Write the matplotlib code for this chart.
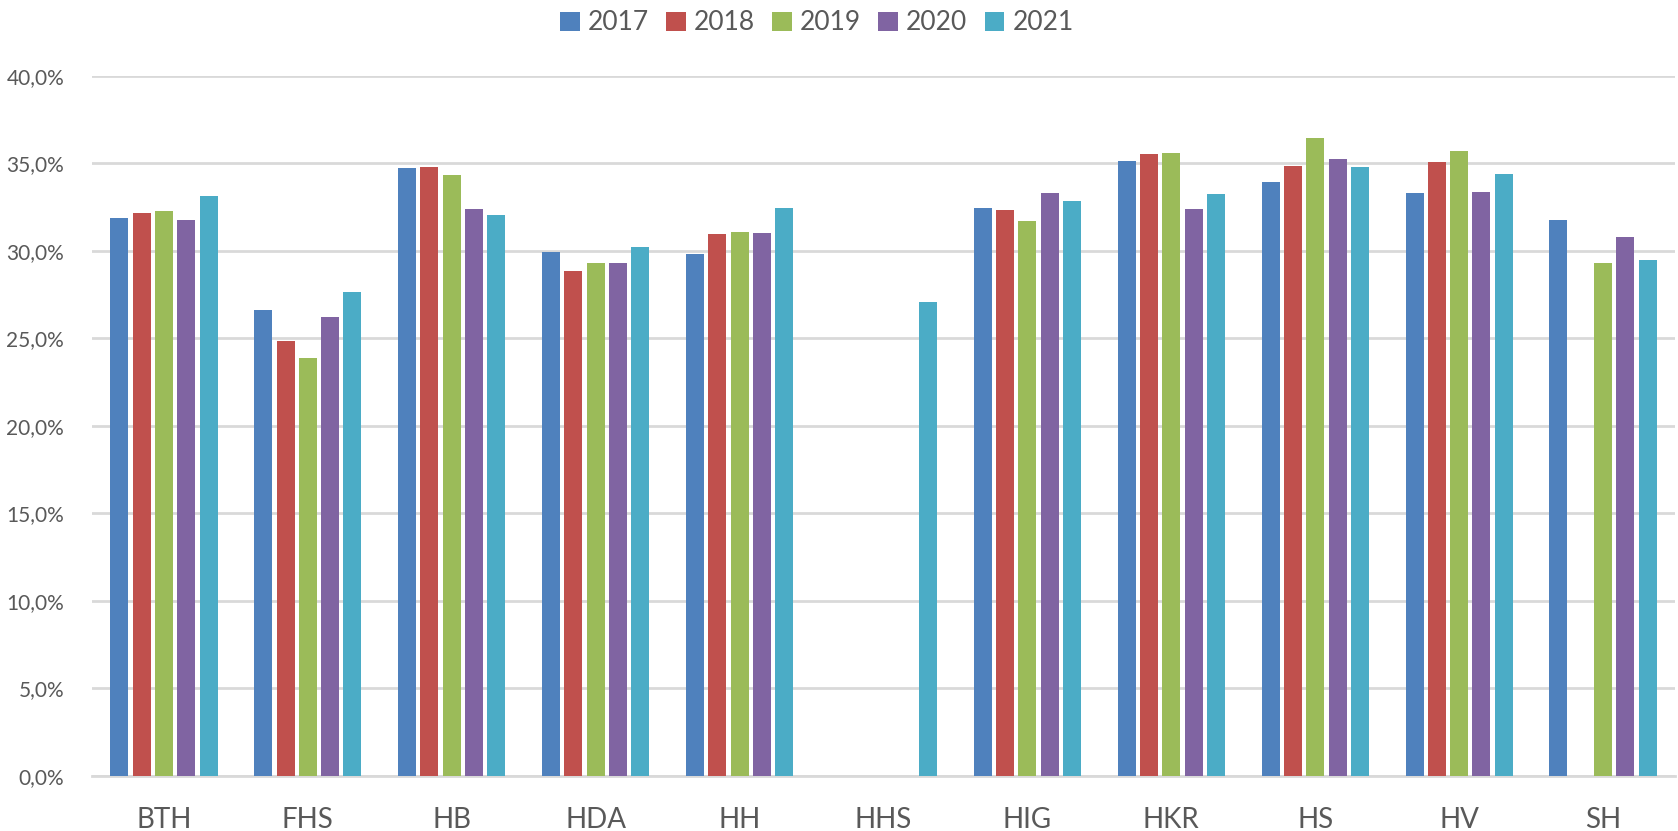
import numpy as np
import matplotlib.pyplot as plt
from matplotlib.ticker import FuncFormatter

plt.rcParams['font.family'] = ['Lato', 'DejaVu Sans']

schools = ['BTH', 'FHS', 'HB', 'HDA', 'HH', 'HHS', 'HIG', 'HKR', 'HS', 'HV', 'SH']
years = ['2017', '2018', '2019', '2020', '2021']
colors = ['#4F81BD', '#C0504D', '#9BBB59', '#8064A2', '#4BACC6']

# share per school and year (nan = no data)
v2017 = [31.85, 26.6, 34.72, 29.93, 29.83, np.nan, 32.44, 35.1, 33.92, 33.28, 31.74]
v2018 = [32.17, 24.84, 34.76, 28.83, 30.94, np.nan, 32.33, 35.54, 34.83, 35.08, np.nan]
v2019 = [32.27, 23.89, 34.32, 29.3, 31.07, np.nan, 31.68, 35.58, 36.43, 35.69, 29.29]
v2020 = [31.74, 26.23, 32.37, 29.3, 31.01, np.nan, 33.3, 32.37, 35.27, 33.37, 30.79]
v2021 = [33.12, 27.63, 32.04, 30.22, 32.42, 27.08, 32.86, 33.26, 34.76, 34.38, 29.48]
series = [v2017, v2018, v2019, v2020, v2021]

txt = '#595959'
fig = plt.figure(figsize=(16.78, 8.31), dpi=100)
ax = fig.add_axes([92/1678, 1 - 776/831, (1675 - 92)/1678, (776 - 75.7)/831])

x = np.arange(len(schools))
step = 0.155
width = 0.125
for i, (vals, c, yr) in enumerate(zip(series, colors, years)):
    ax.bar(x + (i - 2) * step, np.array(vals) / 100, width, color=c, label=yr, zorder=3)

ax.set_xlim(-0.5, len(schools) - 0.5)
ax.set_ylim(0, 0.40)
ax.set_yticks(np.arange(0, 0.401, 0.05))
ax.yaxis.set_major_formatter(FuncFormatter(lambda v, p: ('%.1f%%' % (v * 100)).replace('.', ',')))
ax.grid(axis='y', color='#D9D9D9', linewidth=2, zorder=0)
ax.set_xticks(x)
ax.set_xticklabels(schools)
for s in ['top', 'right', 'left']:
    ax.spines[s].set_visible(False)
ax.spines['bottom'].set_color('#D9D9D9')
ax.spines['bottom'].set_linewidth(2)
ax.tick_params(axis='y', length=0, labelsize=15, labelcolor=txt, pad=20)
ax.tick_params(axis='x', length=0, labelsize=20, labelcolor=txt, pad=22)

fig.legend(loc='center', bbox_to_anchor=(817/1678, 1 - 23/831), ncol=5, frameon=False,
           fontsize=19, labelcolor=txt, handlelength=0.75, handleheight=0.75,
           handletextpad=0.3, columnspacing=0.65)

fig.savefig('out.png', dpi=100)
